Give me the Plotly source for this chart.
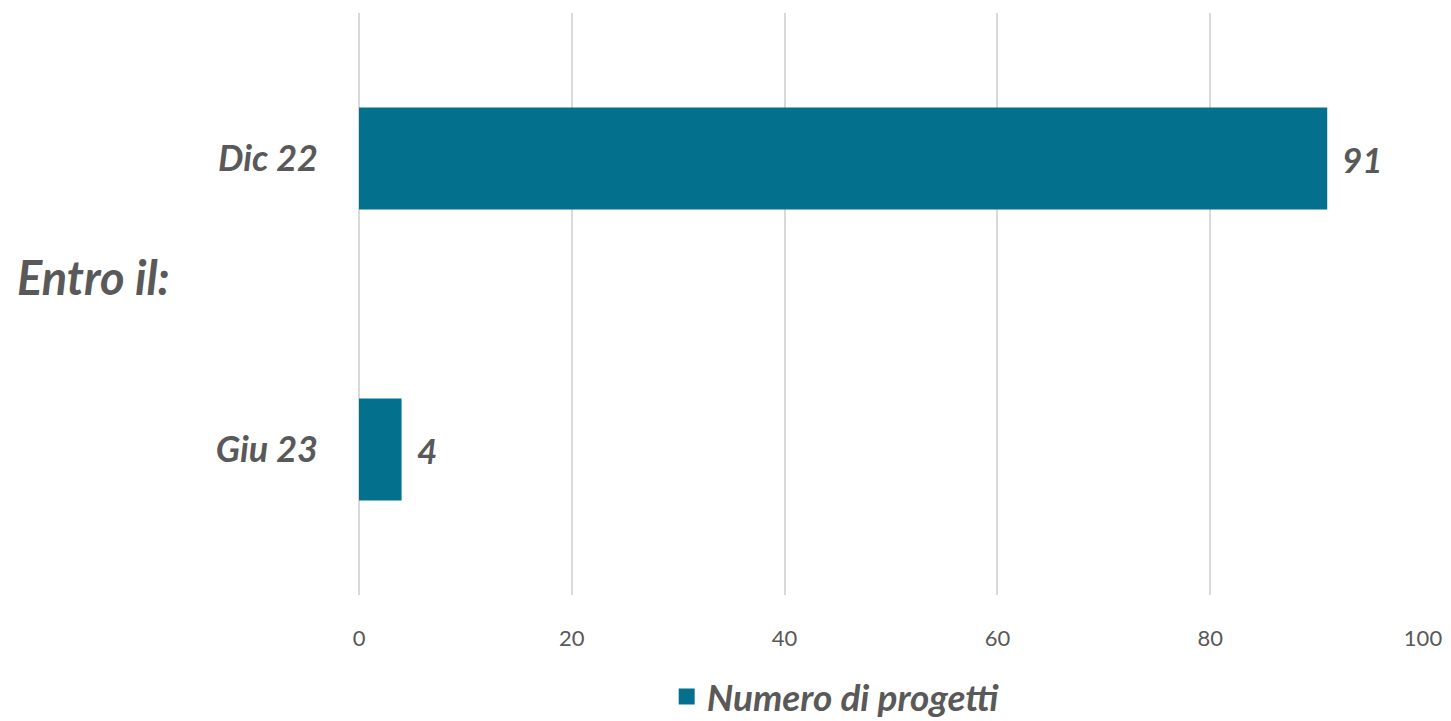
import plotly.graph_objects as go

categories = ["Dic 22", "Giu 23"]
values = [91, 4]
series_name = "Numero di progetti"
tick_vals = [0, 20, 40, 60, 80, 100]

BAR = "#03708D"
TXT = "#595959"
FONT = "Lato"

fig = go.Figure()
fig.add_trace(go.Bar(
    y=categories, x=values, orientation="h", name=series_name,
    marker=dict(color=BAR, line=dict(width=0)), width=0.35,
    showlegend=False,
))
# legend entry with a larger square swatch
fig.add_trace(go.Scatter(
    x=[None], y=[None], mode="markers", name=series_name,
    marker=dict(color=BAR, symbol="square", size=20), showlegend=True,
))

annotations = [
    dict(x=v, y=c, xref="x", yref="y", text=str(v), showarrow=False,
         xanchor="left", xshift=13,
         font=dict(family=FONT, size=35, color=TXT, style="italic", weight="bold"))
    for c, v in zip(categories, values)
]
annotations.append(dict(
    text="Entro il:", x=-0.3233, xref="paper", xanchor="left",
    y=0.546, yref="paper", yanchor="middle", showarrow=False,
    font=dict(family=FONT, size=47, color=TXT, style="italic", weight="bold")))

fig.update_layout(
    width=1451, height=721,
    paper_bgcolor="white", plot_bgcolor="white",
    margin=dict(l=359, r=28, t=13, b=126, autoexpand=False),
    showlegend=True,
    legend=dict(orientation="h", x=0.448, xanchor="center", xref="paper",
                y=-0.122, yanchor="top", itemwidth=30,
                font=dict(family=FONT, size=37, color=TXT, style="italic", weight="bold")),
    xaxis=dict(range=[0, 100], tickvals=tick_vals, showgrid=True,
               gridcolor="#D9D9D9", gridwidth=1.5, zeroline=True,
               zerolinecolor="#D9D9D9", zerolinewidth=1.5, automargin=False,
               tickfont=dict(family=FONT, size=22, color=TXT),
               ticks="", ticklabelstandoff=28, showline=False),
    yaxis=dict(autorange="reversed", showgrid=False, zeroline=False, automargin=False,
               tickfont=dict(family=FONT, size=36, color=TXT, style="italic", weight="bold"),
               ticks="", ticklabelstandoff=40, showline=False),
    annotations=annotations,
)

fig.write_html("out.html", config={"displayModeBar": False},
               post_script="document.body.style.margin='0';")
